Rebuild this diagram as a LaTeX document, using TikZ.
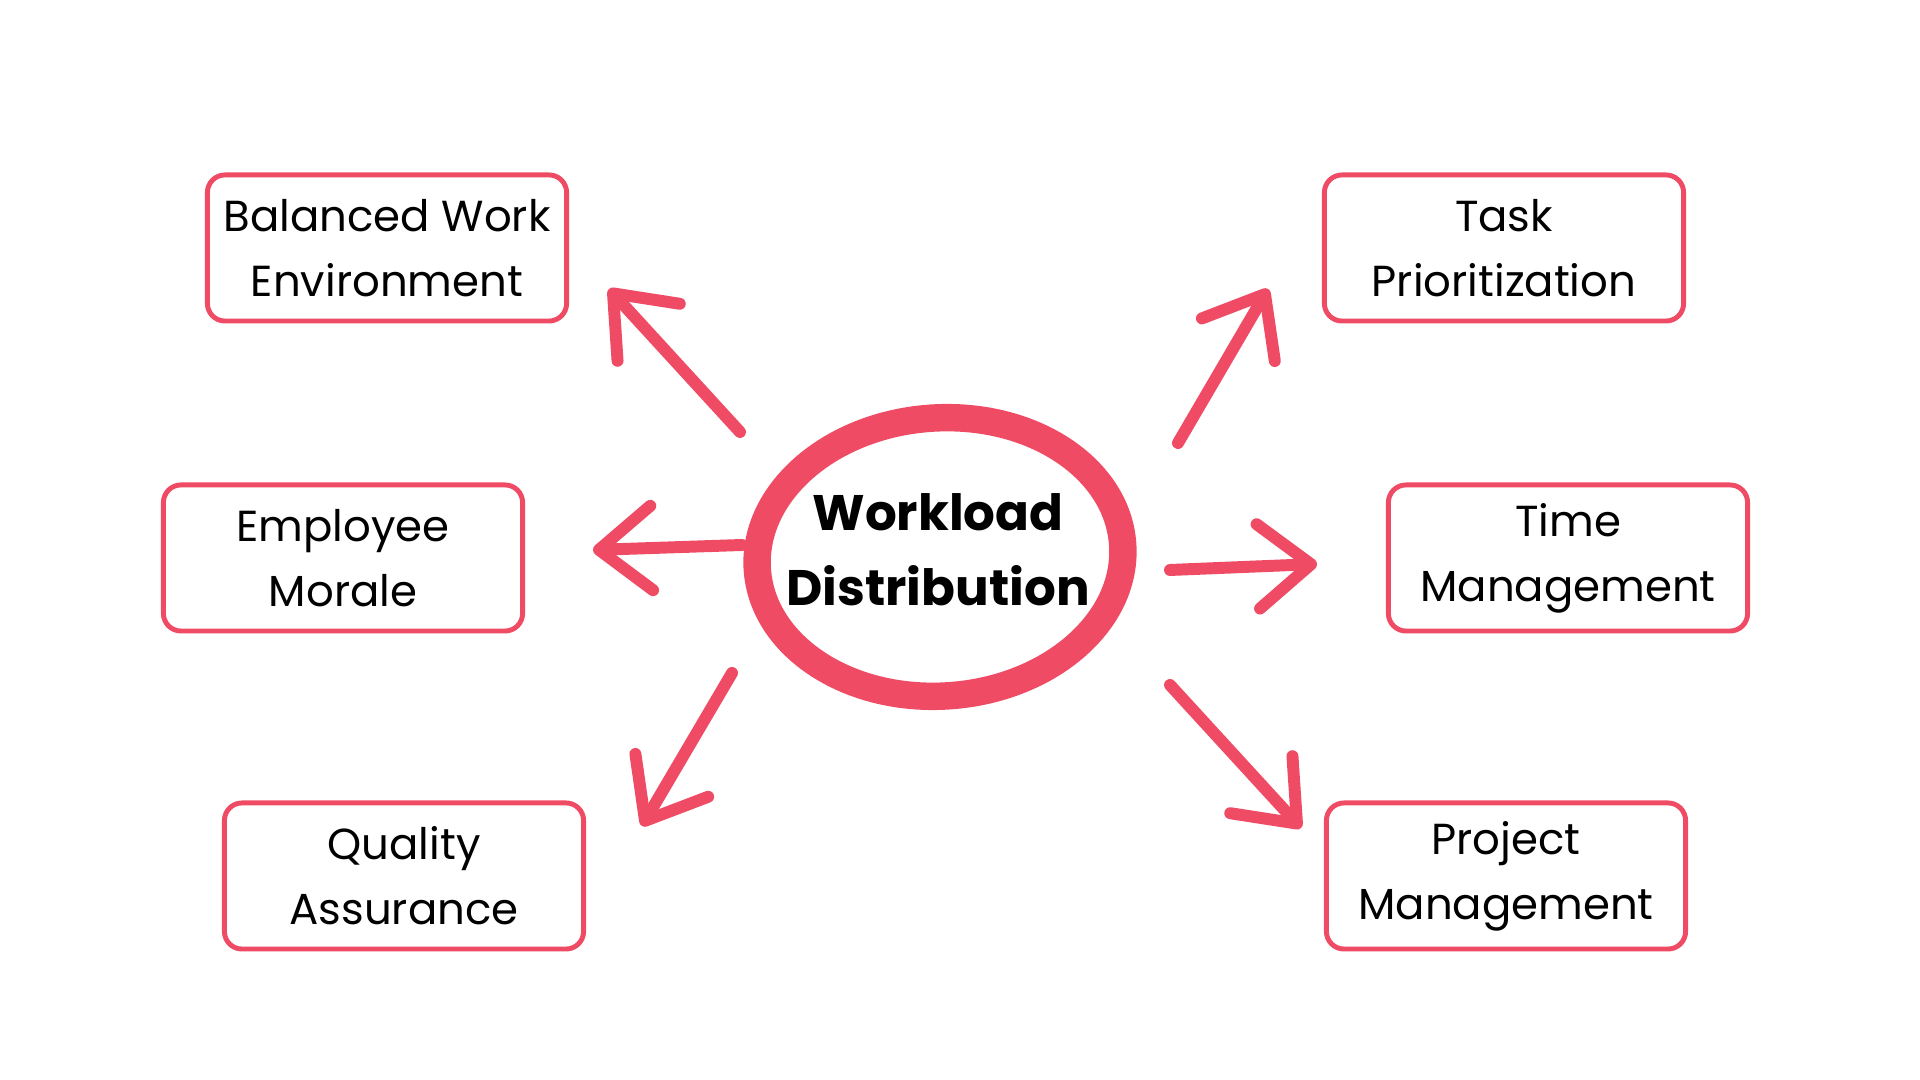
\documentclass[tikz,border=0pt]{standalone}
\usepackage{fontspec}
\setmainfont{Poppins}
\usepackage{xcolor}
\usetikzlibrary{arrows.meta, positioning, shapes.geometric}
\definecolor{wred}{HTML}{EF4B65}
\tikzset{
  topicbox/.style={draw=wred, line width=1.4pt, rounded corners=5pt,
                   minimum width=3.59cm, minimum height=1.46cm, inner sep=0pt,
                   align=center, font=\fontsize{12.35}{18.5}\selectfont},
  hubring/.style={draw=wred, line width=7.8pt, ellipse,
                  minimum width=3.66cm, minimum height=2.78cm, inner sep=0pt},
  hublabel/.style={align=center, font=\bfseries\fontsize{14.2}{21.3}\selectfont},
  sketcharr/.style={-{Straight Barb[length=15pt, width=24pt, round]},
                    line width=3.4pt, wred, line cap=round, line join=round},
}
\begin{document}
\begin{tikzpicture}[x=0.01cm, y=-0.01cm]
  \useasboundingbox (0,0) rectangle (1920,1080);

  \node[hubring, rotate=4] (hub) at (940,557) {};
  \node[hublabel] (hubtext) at (938,550) {Workload\\Distribution};

  \node[topicbox] (balance) at (387,248) {Balanced Work\\Environment};
  \node[topicbox] (morale) at (343,558) {Employee\\Morale};
  \node[topicbox] (quality) at (404,876) {Quality\\Assurance};
  \node[topicbox] (task) at (1504,248) {Task\\Prioritization};
  \node[topicbox] (time) at (1568,558) {Time\\Management};
  \node[topicbox] (project) at (1506,876) {Project\\Management};

  \coordinate (nw0) at (740,432);  \coordinate (nw1) at (609,289);
  \coordinate (w0)  at (742,545);  \coordinate (w1)  at (593,550);
  \coordinate (sw0) at (732,673);  \coordinate (sw1) at (642,826);
  \coordinate (ne0) at (1178,443); \coordinate (ne1) at (1268,289);
  \coordinate (e0)  at (1170,570); \coordinate (e1)  at (1317,564);
  \coordinate (se0) at (1170,685); \coordinate (se1) at (1301,828);

  \draw[sketcharr] (nw0) -- (nw1);
  \draw[sketcharr] (w0) -- (w1);
  \draw[sketcharr] (sw0) -- (sw1);
  \draw[sketcharr] (ne0) -- (ne1);
  \draw[sketcharr] (e0) -- (e1);
  \draw[sketcharr] (se0) -- (se1);
\end{tikzpicture}
\end{document}
